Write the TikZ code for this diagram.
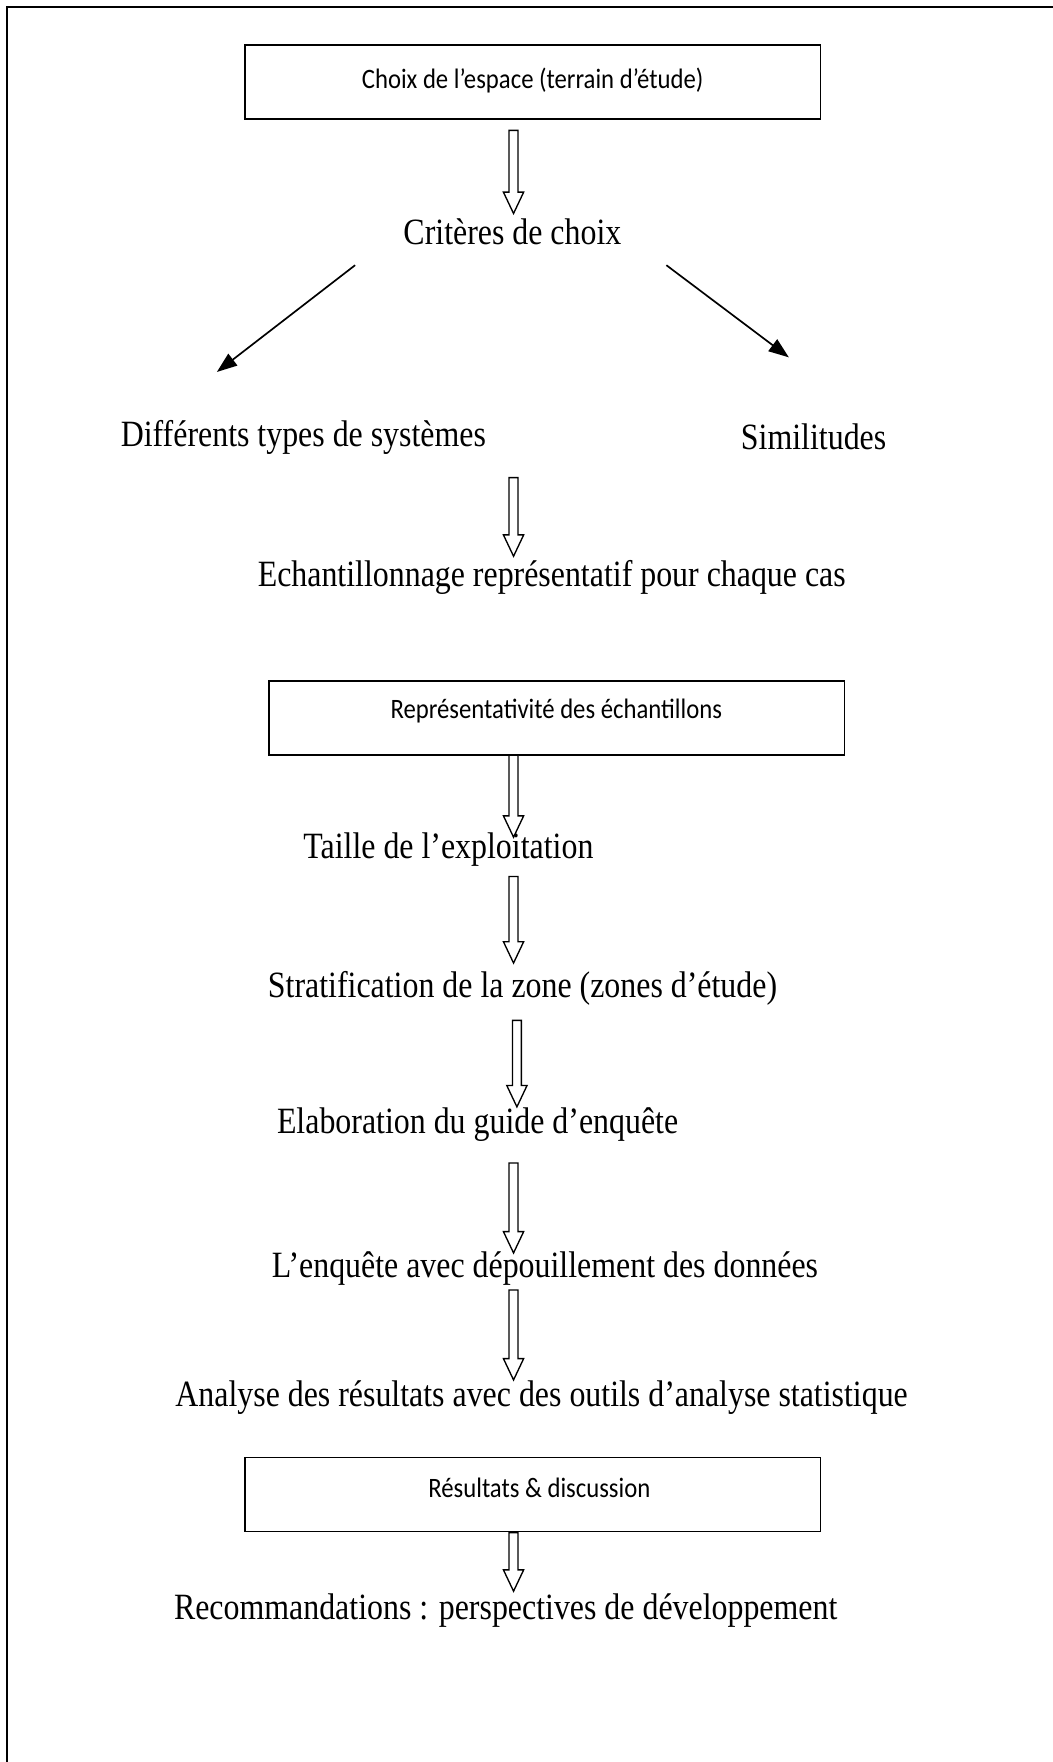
\documentclass[tikz,border=0pt]{standalone}
\usepackage{fontspec}
\setmainfont{Liberation Serif}[FakeStretch=0.86]
\newfontfamily\boxfont{Carlito}[FakeStretch=0.88]
\usetikzlibrary{calc,arrows.meta}
\tikzset{
  frameline/.style={line width=2pt, black},
  boxnode/.style={draw, line width=1.4pt, minimum width=512pt, minimum height=66pt, inner sep=0pt},
  boxtext/.style={font=\boxfont\fontsize{25}{29}\selectfont, inner sep=0pt},
  serif/.style={font=\fontsize{33}{38}\selectfont, inner sep=0pt},
  hollow/.style={draw, line width=1.2pt, fill=white, line join=miter},
  linearrow/.style={line width=1.5pt, -{Triangle[length=18pt,width=13pt]}}
}
\newcommand{\hollowarrow}[2]{%
  \draw[hollow] ($(#1)+(-4,0)$) -- ($(#1)+(4,0)$) -- ($(#2)+(4,-19)$) -- ($(#2)+(9,-19)$) -- (#2) -- ($(#2)+(-9,-19)$) -- ($(#2)+(-4,-19)$) -- cycle;}
\begin{document}
\begin{tikzpicture}[x=1pt,y=-1pt]
\useasboundingbox (0,0) rectangle (937,1568);
% frame
\coordinate (fr1) at (937,6);
\coordinate (fr2) at (6,6);
\coordinate (fr3) at (6,1568);
\draw[frameline] (fr1) -- (fr2) -- (fr3);

% box 1
\node[boxnode] (b1) at (474,73) {};
\node[boxtext] (b1t) at (474,72) {Choix de l’espace (terrain d’étude)};
\coordinate (a1s) at (457,116);
\coordinate (a1e) at (457,190);
\hollowarrow{a1s}{a1e}
\node[serif] (crit) at (456,206) {Critères de choix};

\coordinate (l1s) at (316,236);
\coordinate (l1e) at (193,331);
\coordinate (r1s) at (593,236);
\coordinate (r1e) at (702,318);
\draw[linearrow] (l1s) -- (l1e);
\draw[linearrow] (r1s) -- (r1e);

\node[serif] (diff) at (270,389) {Différents types de systèmes};
\node[serif] (simi) at (724,389) {Similitudes};

\coordinate (a2s) at (457,425);
\coordinate (a2e) at (457,495);
\hollowarrow{a2s}{a2e}
\node[serif] (echa) at (491,514) {Echantillonnage représentatif pour chaque cas};

% box 2
\node[boxnode] (b2) at (495.5,639) {};
\node[boxtext] (b2t) at (495,633) {Représentativité des échantillons};
\coordinate (a3s) at (457,672);
\coordinate (a3e) at (457,745);
\hollowarrow{a3s}{a3e}
\node[serif] (tail) at (399,756) {Taille de l’exploitation};

\coordinate (a4s) at (457,780);
\coordinate (a4e) at (457,857);
\hollowarrow{a4s}{a4e}
\node[serif] (strat) at (465,880) {Stratification de la zone (zones d’étude)};

\coordinate (a5s) at (460,908);
\coordinate (a5e) at (460,985);
\hollowarrow{a5s}{a5e}
\node[serif] (elab) at (425,1001) {Elaboration du guide d’enquête};

\coordinate (a6s) at (457,1035);
\coordinate (a6e) at (457,1115);
\hollowarrow{a6s}{a6e}
\node[serif] (enq) at (485,1129) {L’enquête avec dépouillement des données};

\coordinate (a7s) at (457,1148);
\coordinate (a7e) at (457,1228);
\hollowarrow{a7s}{a7e}
\node[serif] (anal) at (482,1244) {Analyse des résultats avec des outils d’analyse statistique};

% box 3
\node[boxnode] (b3) at (474,1330) {};
\node[boxtext] (b3t) at (480,1324) {Résultats \& discussion};
\coordinate (a8s) at (457,1364);
\coordinate (a8e) at (457,1416);
\hollowarrow{a8s}{a8e}
\node[serif] (reco) at (450,1433) {Recommandations : perspectives de développement};
\end{tikzpicture}
\end{document}
